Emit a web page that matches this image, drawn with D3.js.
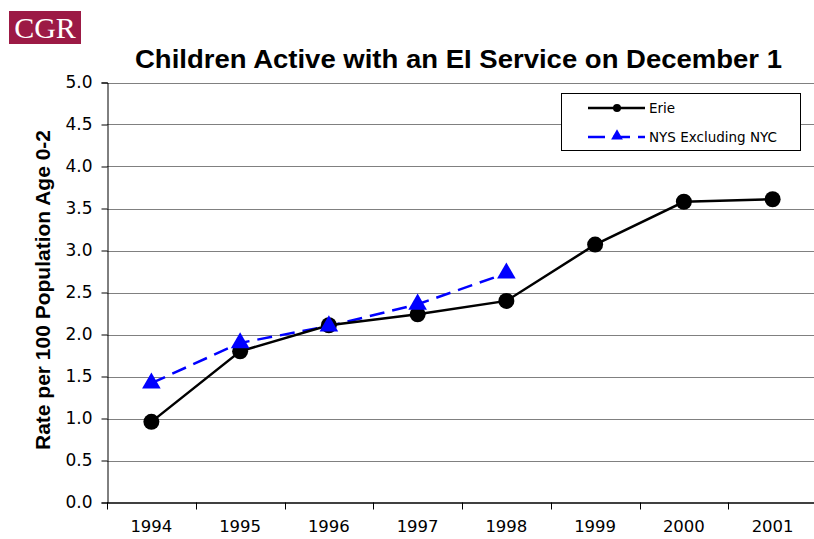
<!DOCTYPE html>
<html><head><meta charset="utf-8">
<script src="https://cdn.jsdelivr.net/npm/d3@7"></script>
<style>body{margin:0;background:#fff}svg{display:block}</style>
</head><body>
<svg id="chart" width="814" height="539"></svg>
<script>
const years = ["1994","1995","1996","1997","1998","1999","2000","2001"];
const erieValues = [0.96, 1.80, 2.11, 2.24, 2.40, 3.07, 3.58, 3.61];
const nysYears = ["1994","1995","1996","1997","1998"];
const nysValues = [1.42, 1.90, 2.10, 2.36, 2.73];
const yTicks = [0,0.5,1,1.5,2,2.5,3,3.5,4,4.5,5];
const seriesNames = ["Erie","NYS Excluding NYC"];

(function(){
const svg = d3.select("#chart");
const pLeft = 107, pRight = 817, pTop = 82.5, pBottom = 502.5;
const x = d3.scaleBand().domain(years).range([pLeft, pRight]);
const y = d3.scaleLinear().domain([0,5]).range([pBottom, pTop]);
const tickFont = "DejaVu Sans, Tahoma, sans-serif";

// logo
svg.append("rect").attr("x",9).attr("y",11).attr("width",72).attr("height",33).attr("fill","#9c1a45");
svg.append("text").attr("x",45).attr("y",38).attr("text-anchor","middle")
  .attr("font-family","Liberation Serif, Times New Roman, serif").attr("font-size",30)
  .attr("fill","#fff").text("CGR");

// title
svg.append("text").attr("x",458.5).attr("y",68).attr("text-anchor","middle")
  .attr("font-family","Liberation Sans, Arial, sans-serif").attr("font-weight","bold")
  .attr("font-size",26).attr("textLength",647).attr("lengthAdjust","spacingAndGlyphs")
  .text("Children Active with an EI Service on December 1");

// gridlines
svg.append("g").selectAll("line").data(yTicks.filter(d=>d>0)).join("line")
  .attr("x1",pLeft).attr("x2",814).attr("y1",d=>Math.round(y(d))+0.5).attr("y2",d=>Math.round(y(d))+0.5)
  .attr("stroke","#808080").attr("stroke-width",1);

// y axis
const yAxis = d3.axisLeft(y).tickValues(yTicks).tickFormat(d3.format(".1f")).tickSize(6).tickPadding(9);
const yg = svg.append("g").attr("transform",`translate(${pLeft+0.5},0)`).call(yAxis);
yg.select(".domain").attr("stroke","#000");
yg.selectAll("text").attr("font-family",tickFont).attr("font-size",17).attr("fill","#000");

// x axis
const xAxis = d3.axisBottom(x).tickSize(0).tickPadding(17);
const xg = svg.append("g").attr("transform",`translate(0,${pBottom+0.5})`).call(xAxis);
xg.select(".domain").attr("d",`M${pLeft},0H814`).attr("stroke","#000").attr("stroke-width",1.5);
xg.selectAll("text").attr("font-family",tickFont).attr("font-size",16.5).attr("fill","#000");
svg.append("g").selectAll("line").data(years).join("line")
  .attr("x1",d=>Math.round(x(d))+0.5).attr("x2",d=>Math.round(x(d))+0.5)
  .attr("y1",pBottom).attr("y2",pBottom+7).attr("stroke","#000");

// y label
svg.append("text").attr("transform",`translate(50,290) rotate(-90)`).attr("text-anchor","middle")
  .attr("font-family","Liberation Sans, Arial, sans-serif").attr("font-weight","bold")
  .attr("font-size",20).attr("textLength",320).attr("lengthAdjust","spacingAndGlyphs")
  .text("Rate per 100 Population Age 0-2");

const cx = d => x(d) + x.bandwidth()/2;
const tri = d3.symbol().type(d3.symbolTriangle).size(150);

// NYS
svg.append("path").datum(nysYears.map((d,i)=>[d,nysValues[i]]))
  .attr("fill","none").attr("stroke","#0000ff").attr("stroke-width",2.5).attr("stroke-dasharray","15,8")
  .attr("d",d3.line().x(d=>cx(d[0])).y(d=>y(d[1])));

// Erie
const erie = years.map((d,i)=>[d,erieValues[i]]);
svg.append("path").datum(erie).attr("fill","none").attr("stroke","#000").attr("stroke-width",2.5)
  .attr("d",d3.line().x(d=>cx(d[0])).y(d=>y(d[1])));
svg.append("g").selectAll("circle").data(erie).join("circle")
  .attr("cx",d=>cx(d[0])).attr("cy",d=>y(d[1])).attr("r",8).attr("fill","#000");

svg.append("g").selectAll("path").data(nysYears.map((d,i)=>[d,nysValues[i]])).join("path")
  .attr("transform",d=>`translate(${cx(d[0])},${y(d[1])})`).attr("d",tri).attr("fill","#0000ff");

// legend
const lg = svg.append("g");
lg.append("rect").attr("x",561.5).attr("y",93.5).attr("width",239).attr("height",57)
  .attr("fill","#fff").attr("stroke","#000");
lg.append("line").attr("x1",588).attr("x2",645).attr("y1",108).attr("y2",108).attr("stroke","#000").attr("stroke-width",2.5);
lg.append("circle").attr("cx",617).attr("cy",108).attr("r",4).attr("fill","#000");
lg.append("line").attr("x1",588).attr("x2",645).attr("y1",137).attr("y2",137).attr("stroke","#0000ff").attr("stroke-width",2.5).attr("stroke-dasharray","17,8");
lg.append("path").attr("transform","translate(617,136)").attr("d",d3.symbol().type(d3.symbolTriangle).size(60)).attr("fill","#0000ff");
lg.selectAll("text.l").data(seriesNames).join("text").attr("class","l")
  .attr("x",649).attr("y",(d,i)=>[113,142][i]).attr("font-family",tickFont).attr("font-size",13.5).text(d=>d);
})();
</script>
</body></html>
